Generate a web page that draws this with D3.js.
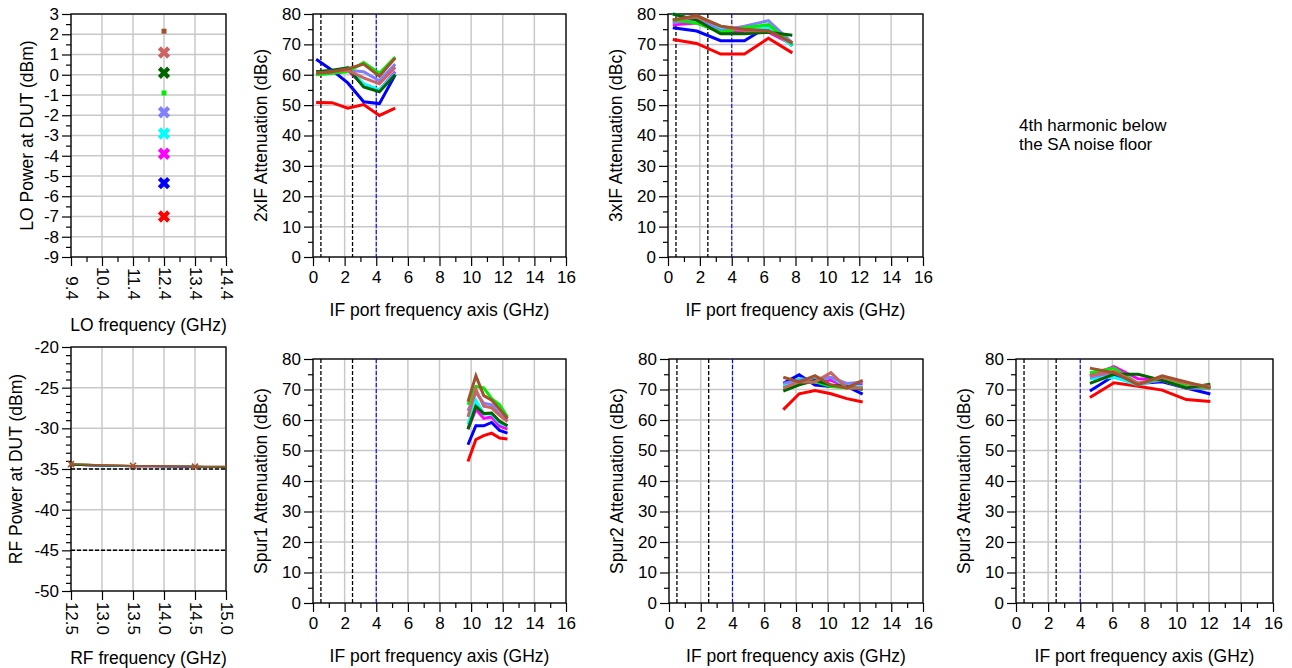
<!DOCTYPE html>
<html>
<head>
<meta charset="utf-8">
<style>
body { margin: 0; background: #fff; }
svg text { font-family: "Liberation Sans", Arial, sans-serif; fill: #000; }
</style>
</head>
<body>

<svg id='chart' width='1292' height='668'></svg>

<script src="https://cdn.jsdelivr.net/npm/d3@7/dist/d3.min.js"></script>
<script>
// series order: red, blue, magenta, cyan, purple, lime, dark green, indian red, brown
var SERIES_COLORS = ['#ff0000', '#0000ff', '#ff00ff', '#00ffff', '#8080ff', '#00ee00', '#006400', '#cd6464', '#a0522d'];

var LO_FREQ = 12.4;
var LO_POWER = [-7, -5.35, -3.9, -2.9, -1.85, -0.9, 0.1, 1.1, 2.15];
var LO_MARKER = ['x', 'x', 'x', 'x', 'x', 'sq', 'x', 'x', 'sq'];

var RF_FREQ = [12.5, 13, 13.5, 14, 14.5, 15];
var RF_POWER = [
	[-34.5, -34.6, -34.7, -34.7, -34.8, -34.8],
	[-34.5, -34.6, -34.7, -34.7, -34.8, -34.8],
	[-34.5, -34.6, -34.6, -34.7, -34.7, -34.8],
	[-34.5, -34.6, -34.6, -34.7, -34.7, -34.8],
	[-34.4, -34.5, -34.6, -34.7, -34.7, -34.8],
	[-34.4, -34.5, -34.6, -34.6, -34.7, -34.8],
	[-34.5, -34.6, -34.6, -34.7, -34.7, -34.8],
	[-34.4, -34.5, -34.6, -34.6, -34.7, -34.7],
	[-34.4, -34.5, -34.6, -34.6, -34.7, -34.7]
];
var RF_MARKED = [12.5, 13.5, 14.5];
var RF_LIMITS = [-35, -45];

var IF_BLACK_MARKS = [0.5, 2.5];
var IF_BLUE_MARKS = [4];

var X_2XIF = [0.2, 1.2, 2.2, 3.2, 4.2, 5.2];
var ATT_2XIF = [
	[50.9, 50.8, 49.0, 50.2, 46.6, 49.0],
	[65.1, 61.5, 57.3, 51.1, 50.5, 60.0],
	[61.0, 61.0, 61.5, 56.5, 55.0, 61.0],
	[60.0, 60.5, 62.5, 57.0, 55.0, 60.5],
	[60.5, 61.0, 61.5, 61.0, 58.0, 63.5],
	[60.0, 60.5, 61.0, 64.0, 60.5, 65.8],
	[61.0, 61.5, 62.3, 56.0, 54.4, 60.1],
	[60.5, 61.0, 61.5, 59.0, 57.0, 62.5],
	[60.5, 61.0, 62.0, 63.5, 59.5, 65.5]
];

var X_3XIF = [0.3, 1.8, 3.3, 4.8, 6.3, 7.8];
var ATT_3XIF = [
	[71.6, 70.3, 66.8, 66.8, 72.0, 67.2],
	[75.5, 74.4, 71.2, 71.2, 76.0, 69.5],
	[76.5, 77.0, 74.5, 74.0, 74.0, 70.0],
	[80.0, 78.0, 75.5, 75.0, 75.5, 69.5],
	[77.0, 78.5, 74.5, 76.0, 77.8, 70.5],
	[78.0, 77.0, 74.0, 75.5, 76.5, 70.0],
	[80.0, 78.0, 73.5, 73.5, 74.0, 73.0],
	[78.0, 79.0, 76.0, 74.5, 74.5, 70.5],
	[78.0, 79.5, 76.0, 75.0, 74.5, 70.5]
];

var X_SPUR1 = [9.8, 10.3, 10.8, 11.3, 11.8, 12.3];
var ATT_SPUR1 = [
	[46.4, 53.6, 54.9, 55.7, 54.1, 53.8],
	[51.9, 58.1, 58.1, 59.2, 56.6, 55.7],
	[57.0, 63.5, 60.5, 61.0, 58.0, 57.0],
	[58.5, 66.5, 62.0, 62.0, 59.0, 58.0],
	[63.0, 69.0, 65.5, 65.0, 62.0, 60.0],
	[65.0, 71.0, 70.5, 67.0, 65.0, 61.0],
	[57.0, 64.5, 62.1, 62.3, 59.6, 58.1],
	[61.0, 70.0, 64.5, 64.0, 61.5, 59.5],
	[66.0, 74.5, 68.0, 66.5, 63.5, 60.5]
];

var X_SPUR2 = [7.2, 8.2, 9.2, 10.2, 11.2, 12.2];
var ATT_SPUR2 = [
	[63.4, 68.6, 69.7, 68.6, 67.0, 65.9],
	[72.0, 74.8, 71.5, 71.0, 71.0, 68.5],
	[71.0, 72.5, 73.0, 73.0, 71.0, 72.0],
	[71.0, 73.5, 73.0, 74.0, 71.0, 71.0],
	[72.0, 73.0, 73.5, 74.0, 72.0, 72.5],
	[70.5, 72.0, 72.5, 71.0, 70.5, 70.5],
	[69.5, 71.5, 73.0, 71.5, 71.0, 70.0],
	[70.5, 72.5, 72.5, 75.5, 70.5, 70.5],
	[74.0, 72.5, 74.5, 71.5, 70.5, 73.0]
];

var X_SPUR3 = [4.6, 6.1, 7.6, 9.1, 10.6, 12.1];
var ATT_SPUR3 = [
	[67.4, 72.2, 71.1, 69.8, 66.7, 66.1],
	[69.5, 74.5, 72.0, 72.5, 70.5, 68.5],
	[74.5, 77.5, 73.5, 73.0, 70.5, 70.5],
	[73.5, 74.0, 71.5, 73.5, 72.0, 70.5],
	[74.0, 75.5, 72.0, 73.0, 70.5, 70.5],
	[75.5, 77.0, 72.0, 73.5, 71.0, 70.5],
	[72.0, 75.0, 75.0, 73.0, 70.5, 71.7],
	[74.5, 76.0, 72.0, 74.0, 72.0, 71.0],
	[77.0, 75.5, 71.5, 74.5, 72.5, 70.5]
];

var IF_X_MAJOR = [0, 2, 4, 6, 8, 10, 12, 14, 16];
var IF_X_MINOR = [1, 3, 5, 7, 9, 11, 13, 15];
var ATT_Y_MAJOR = [0, 10, 20, 30, 40, 50, 60, 70, 80];
var ATT_Y_MINOR = [5, 15, 25, 35, 45, 55, 65, 75];
var LO_X_MAJOR = [9.4, 10.4, 11.4, 12.4, 13.4, 14.4];
var LO_X_MINOR = [9.9, 10.9, 11.9, 12.9, 13.9];
var LO_Y_MAJOR = [-9, -8, -7, -6, -5, -4, -3, -2, -1, 0, 1, 2, 3];
var LO_Y_MINOR = [-8.5, -7.5, -6.5, -5.5, -4.5, -3.5, -2.5, -1.5, -0.5, 0.5, 1.5, 2.5];
var RF_X_MAJOR = [12.5, 13, 13.5, 14, 14.5, 15];
var RF_Y_MAJOR = [-50, -45, -40, -35, -30, -25, -20];
var RF_Y_MINOR = d3.range(-49, -20).filter(function(v){ return v % 5 !== 0; });

var NOTE_LINES = ['4th harmonic below', 'the SA noise floor'];

var svg = d3.select('#chart');
var GRID = '#c8c8c8';
var TICK_FONT = '17px';
var TITLE_FONT = '17.5px';

// plain hyphen for negatives, like the original
function intLabel(d) { return String(d); }
function oneDecimal(d) { return d.toFixed(1); }

function drawPanel(p) {
	var x = d3.scaleLinear().domain(p.xDomain).range([p.left, p.right]);
	var y = d3.scaleLinear().domain(p.yDomain).range([p.bottom, p.top]);
	var g = svg.append('g');

	// grid
	g.append('g').selectAll('line').data(p.xMajor).enter().append('line')
		.attr('x1', function(d){ return x(d); }).attr('x2', function(d){ return x(d); })
		.attr('y1', p.top).attr('y2', p.bottom)
		.style('stroke', GRID).style('stroke-width', 1.5);
	g.append('g').selectAll('line').data(p.yMajor).enter().append('line')
		.attr('y1', function(d){ return y(d); }).attr('y2', function(d){ return y(d); })
		.attr('x1', p.left).attr('x2', p.right)
		.style('stroke', GRID).style('stroke-width', 1.5);

	// minor ticks
	if (p.xMinor.length) {
		g.append('g').attr('transform', 'translate(0,' + p.bottom + ')')
			.call(d3.axisBottom(x).tickValues(p.xMinor).tickSize(5).tickSizeOuter(0).tickFormat(''))
			.call(function(a){ a.select('.domain').remove(); });
	}
	if (p.yMinor.length) {
		g.append('g').attr('transform', 'translate(' + p.left + ',0)')
			.call(d3.axisLeft(y).tickValues(p.yMinor).tickSize(5).tickSizeOuter(0).tickFormat(''))
			.call(function(a){ a.select('.domain').remove(); });
	}

	// major ticks and labels
	var xAxis = g.append('g').attr('transform', 'translate(0,' + p.bottom + ')')
		.call(d3.axisBottom(x).tickValues(p.xMajor).tickSize(9).tickSizeOuter(0).tickPadding(5).tickFormat(p.xFormat));
	xAxis.select('.domain').remove();
	xAxis.selectAll('text').style('font-size', TICK_FONT).style('font-family', '"Liberation Sans", Arial, sans-serif');
	if (p.rotateX) {
		xAxis.selectAll('text')
			.attr('transform', 'rotate(90)')
			.attr('x', p.rotateX).attr('y', 0).attr('dy', '0.35em')
			.style('text-anchor', 'end');
	}
	var yAxis = g.append('g').attr('transform', 'translate(' + p.left + ',0)')
		.call(d3.axisLeft(y).tickValues(p.yMajor).tickSize(9).tickSizeOuter(0).tickPadding(3).tickFormat(intLabel));
	yAxis.select('.domain').remove();
	yAxis.selectAll('text').style('font-size', TICK_FONT).style('font-family', '"Liberation Sans", Arial, sans-serif');
	g.selectAll('.tick line').style('stroke', '#000').style('stroke-width', 1.2);

	// frame
	g.append('rect')
		.attr('x', p.left).attr('y', p.top)
		.attr('width', p.right - p.left).attr('height', p.bottom - p.top)
		.style('fill', 'none').style('stroke', '#000').style('stroke-width', 1.3);

	// titles
	g.append('text')
		.attr('x', (p.left + p.right) / 2).attr('y', p.xTitleY)
		.style('text-anchor', 'middle').style('font-size', TITLE_FONT)
		.text(p.xTitle);
	g.append('text')
		.attr('transform', 'translate(' + p.yTitleX + ',' + ((p.top + p.bottom) / 2) + ') rotate(-90)')
		.attr('dy', '0.35em')
		.style('text-anchor', 'middle').style('font-size', TITLE_FONT)
		.text(p.yTitle);

	return {x: x, y: y, g: g};
}

function drawIfMarks(s, p) {
	IF_BLACK_MARKS.forEach(function(v){
		s.g.append('line')
			.attr('x1', s.x(v)).attr('x2', s.x(v)).attr('y1', p.top).attr('y2', p.bottom)
			.style('stroke', '#000').style('stroke-width', 1.3).attr('stroke-dasharray', '4,2');
	});
	IF_BLUE_MARKS.forEach(function(v){
		s.g.append('line')
			.attr('x1', s.x(v)).attr('x2', s.x(v)).attr('y1', p.top).attr('y2', p.bottom)
			.style('stroke', '#0000ff').style('stroke-width', 1.1).attr('stroke-dasharray', '4,2');
	});
}

function drawSeries(s, xs, rows, width) {
	var line = d3.line()
		.x(function(d, i){ return s.x(xs[i]); })
		.y(function(d){ return s.y(d); });
	rows.forEach(function(row, k){
		s.g.append('path')
			.attr('d', line(row))
			.style('fill', 'none')
			.style('stroke', SERIES_COLORS[k])
			.style('stroke-width', width);
	});
}

function ifPanel(left, top, right, bottom, yTitle, xs, rows) {
	var p = {
		left: left, top: top, right: right, bottom: bottom,
		xDomain: [0, 16], yDomain: [0, 80],
		xMajor: IF_X_MAJOR, xMinor: IF_X_MINOR, yMajor: ATT_Y_MAJOR, yMinor: ATT_Y_MINOR,
		xFormat: intLabel,
		xTitle: 'IF port frequency axis (GHz)', xTitleY: bottom + 59,
		yTitle: yTitle, yTitleX: left - 52
	};
	var s = drawPanel(p);
	drawIfMarks(s, p);
	drawSeries(s, xs, rows, 3);
}

// LO panel
var loP = {
	left: 71, top: 14, right: 226, bottom: 257,
	xDomain: [9.4, 14.4], yDomain: [-9, 3],
	xMajor: LO_X_MAJOR, xMinor: LO_X_MINOR, yMajor: LO_Y_MAJOR, yMinor: LO_Y_MINOR,
	xFormat: oneDecimal, rotateX: 43,
	xTitle: 'LO frequency (GHz)', xTitleY: 331,
	yTitle: 'LO Power at DUT (dBm)', yTitleX: 27
};
var lo = drawPanel(loP);
LO_POWER.forEach(function(v, k){
	if (LO_MARKER[k] === 'sq') {
		lo.g.append('rect')
			.attr('x', lo.x(LO_FREQ) - 2.5).attr('y', lo.y(v) - 2.5)
			.attr('width', 5).attr('height', 5)
			.style('fill', SERIES_COLORS[k]);
	} else {
		lo.g.append('path')
			.attr('d', d3.symbol().type(d3.symbolCross).size(95)())
			.attr('transform', 'translate(' + lo.x(LO_FREQ) + ',' + lo.y(v) + ') rotate(45)')
			.style('fill', SERIES_COLORS[k]);
	}
});

// RF panel
var rfP = {
	left: 71, top: 347, right: 226, bottom: 591,
	xDomain: [12.5, 15], yDomain: [-50, -20],
	xMajor: RF_X_MAJOR, xMinor: [], yMajor: RF_Y_MAJOR, yMinor: RF_Y_MINOR,
	xFormat: oneDecimal, rotateX: 44,
	xTitle: 'RF frequency (GHz)', xTitleY: 664,
	yTitle: 'RF Power at DUT (dBm)', yTitleX: 16
};
var rf = drawPanel(rfP);
RF_LIMITS.forEach(function(v){
	rf.g.append('line')
		.attr('x1', rfP.left).attr('x2', rfP.right).attr('y1', rf.y(v)).attr('y2', rf.y(v))
		.style('stroke', '#000').style('stroke-width', 1.5).attr('stroke-dasharray', '4,2');
});
drawSeries(rf, RF_FREQ, RF_POWER, 1.5);
RF_MARKED.forEach(function(f){
	var i = RF_FREQ.indexOf(f);
	var px = rf.x(f), py = rf.y(RF_POWER[8][i]);
	rf.g.append('path')
		.attr('d', 'M' + (px - 3) + ',' + (py - 3) + 'L' + (px + 3) + ',' + (py + 3) + 'M' + (px - 3) + ',' + (py + 3) + 'L' + (px + 3) + ',' + (py - 3))
		.style('stroke', SERIES_COLORS[8]).style('stroke-width', 1.6);
});

// IF-referred panels
ifPanel(313, 14, 566, 257, '2xIF Attenuation (dBc)', X_2XIF, ATT_2XIF);
ifPanel(668, 14, 923, 257, '3xIF Attenuation (dBc)', X_3XIF, ATT_3XIF);
ifPanel(313, 359, 566, 603, 'Spur1 Attenuation (dBc)', X_SPUR1, ATT_SPUR1);
ifPanel(669, 359, 923, 603, 'Spur2 Attenuation (dBc)', X_SPUR2, ATT_SPUR2);
ifPanel(1016, 359, 1273, 603, 'Spur3 Attenuation (dBc)', X_SPUR3, ATT_SPUR3);

// note in place of the 4th harmonic panel
svg.append('g').selectAll('text').data(NOTE_LINES).enter().append('text')
	.attr('x', 1019)
	.attr('y', function(d, i){ return 131 + i * 19; })
	.style('font-size', '17px')
	.text(function(d){ return d; });

</script>

</body>
</html>
